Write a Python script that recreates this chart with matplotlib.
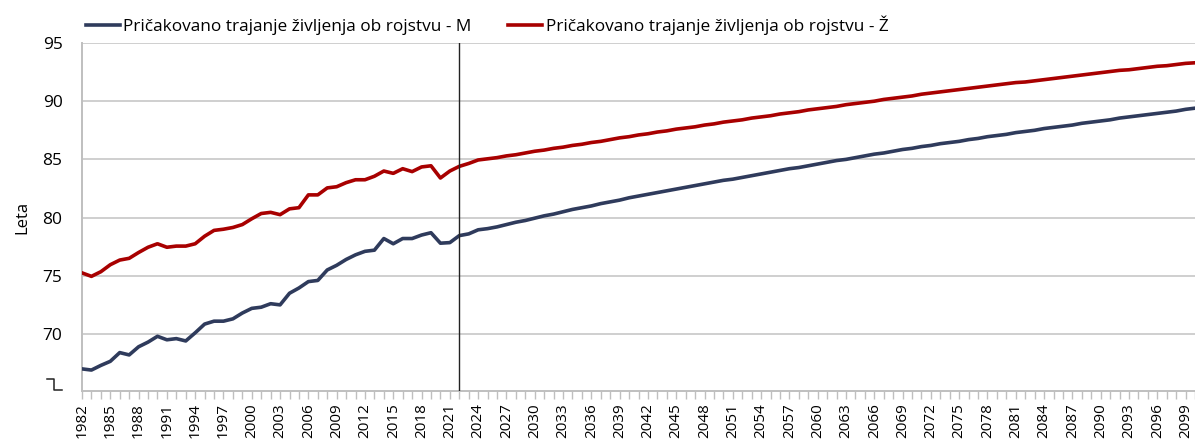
import matplotlib
matplotlib.use("Agg")
import matplotlib.pyplot as plt
from matplotlib.lines import Line2D
from matplotlib.ticker import FixedLocator, MultipleLocator

plt.rcParams["font.family"] = ["Open Sans", "DejaVu Sans"]

years = list(range(1982, 2101))

# pričakovano trajanje življenja ob rojstvu - moški
male = [
    67.0, 66.9, 67.3, 67.65, 68.4, 68.2, 68.9, 69.3, 69.8, 69.5,
    69.6, 69.4, 70.1, 70.85, 71.1, 71.1, 71.3, 71.8, 72.2, 72.3,
    72.6, 72.5, 73.5, 73.95, 74.5, 74.6, 75.5, 75.9, 76.4, 76.8,
    77.1, 77.2, 78.2, 77.75, 78.2, 78.2, 78.5, 78.7, 77.8, 77.85,
    78.45, 78.6, 78.95, 79.05, 79.2, 79.4, 79.6, 79.75, 79.95, 80.15,
    80.3, 80.5, 80.7, 80.85, 81.0, 81.2, 81.35, 81.5, 81.7, 81.85,
    82.0, 82.15, 82.3, 82.45, 82.6, 82.75, 82.9, 83.05, 83.2, 83.3,
    83.45, 83.6, 83.75, 83.9, 84.05, 84.2, 84.3, 84.45, 84.6, 84.75,
    84.9, 85.0, 85.15, 85.3, 85.45, 85.55, 85.7, 85.85, 85.95, 86.1,
    86.2, 86.35, 86.45, 86.55, 86.7, 86.8, 86.95, 87.05, 87.15, 87.3,
    87.4, 87.5, 87.65, 87.75, 87.85, 87.95, 88.1, 88.2, 88.3, 88.4,
    88.55, 88.65, 88.75, 88.85, 88.95, 89.05, 89.15, 89.3, 89.4,
]

# pričakovano trajanje življenja ob rojstvu - ženske
female = [
    75.25, 74.95, 75.35, 75.95, 76.35, 76.5, 77.0, 77.45, 77.75, 77.45,
    77.55, 77.55, 77.75, 78.4, 78.9, 79.0, 79.15, 79.4, 79.9, 80.35,
    80.45, 80.25, 80.75, 80.85, 81.95, 81.95, 82.55, 82.65, 83.0, 83.25,
    83.25, 83.55, 84.0, 83.8, 84.2, 83.95, 84.35, 84.45, 83.4, 84.0,
    84.4, 84.65, 84.95, 85.05, 85.15, 85.3, 85.4, 85.55, 85.7, 85.8,
    85.95, 86.05, 86.2, 86.3, 86.45, 86.55, 86.7, 86.85, 86.95, 87.1,
    87.2, 87.35, 87.45, 87.6, 87.7, 87.8, 87.95, 88.05, 88.2, 88.3,
    88.4, 88.55, 88.65, 88.75, 88.9, 89.0, 89.1, 89.25, 89.35, 89.45,
    89.55, 89.7, 89.8, 89.9, 90.0, 90.15, 90.25, 90.35, 90.45, 90.6,
    90.7, 90.8, 90.9, 91.0, 91.1, 91.2, 91.3, 91.4, 91.5, 91.6,
    91.65, 91.75, 91.85, 91.95, 92.05, 92.15, 92.25, 92.35, 92.45, 92.55,
    92.65, 92.7, 92.8, 92.9, 93.0, 93.05, 93.15, 93.25, 93.3,
]

labels = ["Pričakovano trajanje življenja ob rojstvu - M",
          "Pričakovano trajanje življenja ob rojstvu - Ž"]
colors = ["#2F3B5C", "#A80000"]
y_ticks = [70, 75, 80, 85, 90, 95]
split_year = 2022

fig = plt.figure(figsize=(11.95, 4.41), dpi=100)
ax = fig.add_axes([82 / 1195, 1 - 391 / 441, 1 - 82 / 1195, (391 - 43) / 441])

ax.plot(years, male, color=colors[0], linewidth=2.6, label=labels[0], zorder=3)
ax.plot(years, female, color=colors[1], linewidth=2.6, label=labels[1], zorder=3)
ax.axvline(split_year, color="#222222", linewidth=1.0, zorder=4)

ax.set_xlim(years[0], years[-1])
ax.set_ylim(65.1, 95)
ax.yaxis.set_major_locator(FixedLocator(y_ticks))
ax.grid(axis="y", color="#CFCFCF", linewidth=1.4)
ax.set_axisbelow(True)

ax.xaxis.set_major_locator(FixedLocator(years[::3]))
ax.xaxis.set_minor_locator(MultipleLocator(1))
ax.tick_params(axis="x", which="both", direction="out", length=6, width=1,
               color="#BFBFBF", labelrotation=90, labelsize=11, pad=3)
ax.tick_params(axis="y", length=0, labelsize=12.5, pad=14)

for side in ["top", "right"]:
    ax.spines[side].set_visible(False)
for side in ["left", "bottom"]:
    ax.spines[side].set_color("#BFBFBF")
    ax.spines[side].set_linewidth(1.4)

ax.set_ylabel("Leta", fontsize=12, labelpad=9)

# znak za prekinjeno os
px = lambda x, y: (x / 1195, 1 - y / 441)
brk = Line2D([px(47, 0)[0], px(53.5, 0)[0], px(53.5, 0)[0], px(62, 0)[0]],
             [px(0, 379)[1], px(0, 379)[1], px(0, 389.5)[1], px(0, 389.5)[1]],
             transform=fig.transFigure, color="#222222", linewidth=1.1)
fig.add_artist(brk)

fig.legend(handles=ax.get_lines()[:2], labels=labels, loc="upper left",
           bbox_to_anchor=(70 / 1195, 1.0), ncol=2, frameon=False,
           fontsize=12.4, handlelength=2.0, handletextpad=0.2, columnspacing=2.1)

fig.savefig("out.png", dpi=100)
